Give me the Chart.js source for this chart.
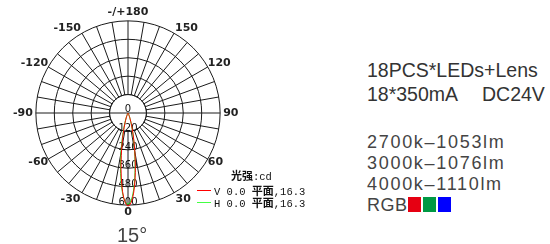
<!DOCTYPE html>
<html>
<head>
<meta charset="utf-8">
<script src="https://cdn.jsdelivr.net/npm/chart.js@4/dist/chart.umd.min.js"></script>
<style>
  html, body { margin: 0; padding: 0; background: #fff; }
  body { width: 550px; height: 244px; position: relative; overflow: hidden; font-family: "Liberation Sans", Arial, sans-serif; }
  #polar { position: absolute; left: 0; top: -14px; }
  .abs { position: absolute; white-space: nowrap; }
  .spec { color: #333; font-size: 19.5px; line-height: 20px; }
  .lum { color: #444; font-size: 18px; line-height: 18px; letter-spacing: 1.7px; }
  .beam { color: #444; font-size: 20px; line-height: 20px; }
  .lg { font-family: "Liberation Mono", monospace; font-size: 10.5px; line-height: 11px; color: #111; }
  .lg b { font-family: "Noto Sans CJK SC", sans-serif; font-size: 11px; }
  .sw { position: absolute; width: 14px; height: 1px; }
  .sq { position: absolute; width: 13px; height: 15px; top: 197px; }
</style>
</head>
<body>
<canvas id="polar" width="256" height="254"></canvas>

<div class="abs beam" style="left:117px; top:225px;">15°</div>

<div class="abs lg" style="left:231px; top:170px;"><b>光强</b>:cd</div>
<div class="sw" style="left:197px; top:190px; background:#ff0000;"></div>
<div class="abs lg" style="left:214px; top:185px;">V 0.0 <b>平面</b>,16.3</div>
<div class="sw" style="left:197px; top:202px; background:#44ff44;"></div>
<div class="abs lg" style="left:214px; top:197px;">H 0.0 <b>平面</b>,16.3</div>

<div class="abs spec" style="left:367px; top:60px;">18PCS*LEDs+Lens</div>
<div class="abs spec" style="left:367px; top:84px;">18*350mA</div>
<div class="abs spec" style="left:482px; top:84px;">DC24V</div>
<div class="abs lum" style="left:367px; top:133px;">2700k–1053lm</div>
<div class="abs lum" style="left:367px; top:154px;">3000k–1076lm</div>
<div class="abs lum" style="left:367px; top:175px;">4000k–1110lm</div>
<div class="abs lum" style="left:367px; top:196px; letter-spacing:0.5px;">RGB</div>
<div class="sq" style="left:408px; background:#e60012;"></div>
<div class="sq" style="left:423px; background:#009944;"></div>
<div class="sq" style="left:438px; background:#0000ff;"></div>

<script>
// angle labels every 30 deg, going clockwise from the bottom (0) round to 30
const angleTickLabels = ['0', '-30', '-60', '-90', '-120', '-150', '-/+180', '150', '120', '90', '60', '30'];
// intensity rings (cd)
const ringValues = [0, 120, 240, 360, 480, 600];

// beam angles in degrees and candela values
const beamAngles = [-30, -29, -28, -27, -26, -25, -24, -23, -22, -21, -20, -19, -18, -17, -16, -15, -14, -13, -12, -11, -10, -9, -8, -7, -6, -5, -4, -3, -2, -1,
  0, 1, 2, 3, 4, 5, 6, 7, 8, 9, 10, 11, 12, 13, 14, 15, 16, 17, 18, 19, 20, 21, 22, 23, 24, 25, 26, 27, 28, 29, 30];
const vPlane = [2, 3, 4, 6, 8, 10, 13, 17, 22, 27, 34, 42, 52, 64, 79, 96, 117, 141, 169, 202, 239, 280, 325, 372, 420, 467, 511, 549, 578, 598,
  606, 600, 584, 558, 523, 482, 437, 390, 343, 298, 256, 218, 184, 154, 128, 106, 87, 71, 58, 47, 38, 31, 25, 20, 16, 12, 9, 7, 5, 3, 2];
const hPlane = [2, 4, 6, 8, 10, 13, 17, 22, 27, 33, 41, 50, 61, 75, 92, 111, 134, 161, 192, 227, 265, 307, 351, 396, 440, 482, 520, 552, 576, 590,
  594, 588, 571, 544, 509, 468, 423, 376, 330, 286, 245, 208, 175, 146, 121, 100, 82, 67, 55, 45, 37, 30, 24, 19, 15, 12, 9, 7, 5, 3, 2];

// one category per degree; index 0 is the bottom, indices run clockwise
const angleCats = [];
for (let i = 0; i < 360; i++) {
  angleCats.push(i % 30 === 0 ? angleTickLabels[i / 30] : '');
}
const toSeries = (values) => {
  const out = new Array(360).fill(0);
  beamAngles.forEach((a, k) => {
    const idx = a <= 0 ? -a : 360 - a;
    out[idx] = values[k];
  });
  return out;
};

// gap between ring and angle label, per label index
const labelPad = { 0: 4, 30: 3, 90: 3, 150: 2, 180: 5, 210: 2, 270: 3, 330: 3 };

// clears spokes inside the first ring and writes the cd values downwards
const innerRing = {
  id: 'innerRing',
  beforeDatasetsDraw(chart) {
    const r = chart.scales.r;
    const ctx = chart.ctx;
    const rad = r.getDistanceFromCenterForValue(ringValues[1]);
    ctx.save();
    ctx.beginPath();
    ctx.arc(r.xCenter, r.yCenter, rad - 0.5, 0, Math.PI * 2);
    ctx.fillStyle = '#fff';
    ctx.fill();
    ctx.beginPath();
    ctx.arc(r.xCenter, r.yCenter, rad, 0, Math.PI * 2);
    const left = r.getPointPositionForValue(90, ringValues[1]);
    const right = r.getPointPositionForValue(270, ringValues[1]);
    ctx.moveTo(left.x, left.y);
    ctx.lineTo(right.x, right.y);
    ctx.strokeStyle = '#1a1a1a';
    ctx.lineWidth = 1;
    ctx.stroke();

    ctx.font = '10px "DejaVu Sans"';
    ctx.fillStyle = '#111';
    ctx.textAlign = 'center';
    ctx.textBaseline = 'alphabetic';
    ringValues.forEach((v, i) => {
      const p = r.getPointPositionForValue(0, v);
      ctx.fillText(String(v), p.x, i === 0 ? p.y - 1 : p.y);
    });
    ctx.restore();
  }
};

new Chart(document.getElementById('polar'), {
  type: 'radar',
  data: {
    labels: angleCats,
    datasets: [
      { label: 'V 0.0 平面,16.3', data: toSeries(vPlane), borderColor: '#ff0000', borderWidth: 1, pointRadius: 0, fill: false, tension: 0 },
      { label: 'H 0.0 平面,16.3', data: toSeries(hPlane), borderColor: '#22ee22', borderWidth: 1, pointRadius: 0, fill: false, tension: 0 }
    ]
  },
  options: {
    responsive: false,
    animation: false,
    devicePixelRatio: 1,
    layout: { padding: { left: 11, right: 15, top: 0, bottom: 0 } },
    plugins: { legend: { display: false }, tooltip: { enabled: false } },
    scales: {
      r: {
        min: 0,
        max: 600,
        startAngle: 180,
        ticks: { display: false, stepSize: 120 },
        grid: { circular: true, color: '#1a1a1a', lineWidth: 1 },
        angleLines: { color: '#1a1a1a', lineWidth: (c) => (c.index % 10 === 0 ? 1 : 0) },
        pointLabels: {
          padding: (c) => labelPad[c.index] || 0,
          color: '#222',
          font: { family: 'DejaVu Sans', size: 11, weight: 'bold', lineHeight: 0.6 }
        }
      }
    }
  },
  plugins: [innerRing]
});
</script>
</body>
</html>
